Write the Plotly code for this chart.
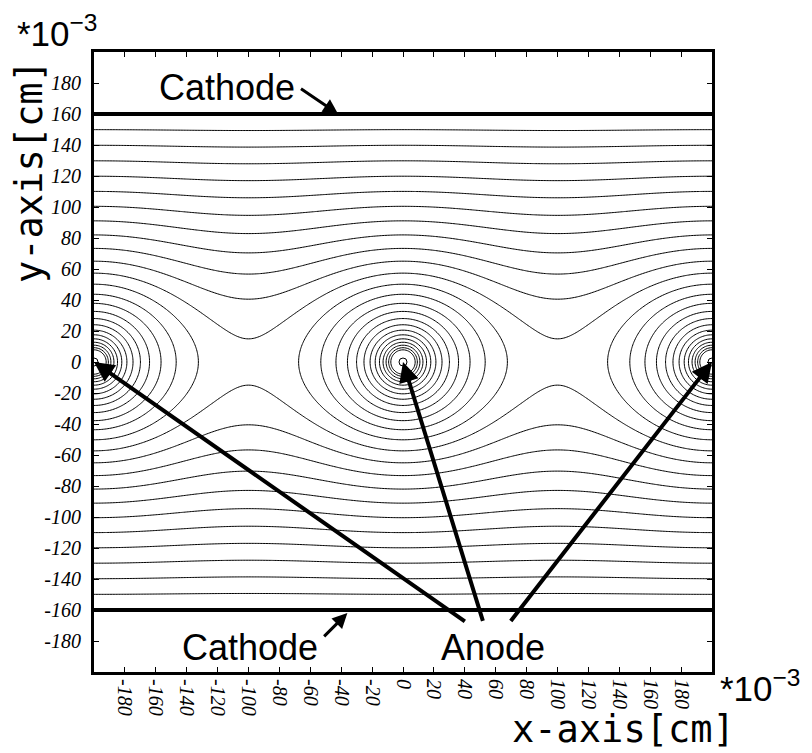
import numpy as np
import plotly.graph_objects as go

# ---- data (units: 1e-3 cm) ----
wire_x = [-200, 0, 200]          # anode wire positions
wire_y = [0, 0, 0]
cathode_y = [-160, 160]          # cathode planes
level_step = 0.326               # equipotential spacing (arb. units)
n_levels = 24
tick_vals = list(range(-180, 181, 20))
tick_text = [str(v) for v in tick_vals]

# ---- potential field of a wire row between two grounded planes ----
pitch = wire_x[1] - wire_x[0]
L = cathode_y[1]
xg = np.linspace(-200, 200, 401)
yg = np.linspace(-L, L, 321)
X, Y = np.meshgrid(xg, yg)
arg = np.cosh(2 * np.pi * Y / pitch) - np.cos(2 * np.pi * X / pitch)
V = -np.log(np.maximum(arg, 1e-9)) + 2 * np.pi * L / pitch - np.log(2)
for k in range(1, 6):
    kap = 2 * np.pi * k / pitch
    V -= (2.0 / k) * np.exp(-kap * L) * np.cosh(kap * Y) / np.cosh(kap * L) * np.cos(kap * X)
V = np.minimum(V, 20)

fig = go.Figure()
fig.add_trace(go.Contour(
    x=xg, y=yg, z=V,
    contours=dict(start=level_step, end=level_step * n_levels, size=level_step, coloring="none"),
    line=dict(color="black", width=1),
    showscale=False, hoverinfo="skip",
))
fig.add_trace(go.Scatter(
    x=wire_x, y=wire_y, mode="markers",
    marker=dict(symbol="circle-open", size=8, color="black", line=dict(width=1)),
    hoverinfo="skip",
))
for cy in cathode_y:
    fig.add_shape(type="line", x0=-200, x1=200, y0=cy, y1=cy, xref="x", yref="y",
                  line=dict(color="black", width=4))

tickfont = dict(family="Liberation Serif", size=20, color="black", style="italic")
axis_common = dict(range=[-200, 200], tickvals=tick_vals, ticktext=tick_text,
                   ticks="inside", ticklen=5, tickwidth=1, tickcolor="black",
                   showline=True, linewidth=3, linecolor="black", mirror="allticks",
                   showgrid=False, zeroline=False, tickfont=tickfont)
fig.update_xaxes(**axis_common, tickangle=90)
fig.update_yaxes(**axis_common, ticklabelstandoff=6)

ann = []
big = dict(family="Liberation Sans", size=36, color="black")
ann.append(dict(x=-114, y=177, xref="x", yref="y", text="Cathode", showarrow=False, font=big))
ann.append(dict(x=-99, y=-184, xref="x", yref="y", text="Cathode", showarrow=False, font=big))
ann.append(dict(x=58, y=-184, xref="x", yref="y", text="Anode", showarrow=False, font=big))
# arrows
arrows = [
    ((-42, 160), (-67, 177), 3),
    ((-36, -162), (-52, -178), 3),
    ((-200, 0), (41, -168), 4),
    ((0, 0), (52, -168), 4),
    ((200, 0), (69, -168), 4),
]
for (hx, hy), (tx, ty), w in arrows:
    ann.append(dict(x=hx, y=hy, ax=tx, ay=ty, xref="x", yref="y", axref="x", ayref="y",
                    text="", showarrow=True, arrowhead=2, arrowsize=1, arrowwidth=w,
                    arrowcolor="black", standoff=0))
mono = dict(family="DejaVu Sans Mono", size=37, color="black")
sci = dict(family="Liberation Sans", size=35, color="black")
# pixel-placed texts: (x_px, y_px, text, font, angle)
pix_texts = [
    (29, 172, "y-axis[cm]", mono, -90),
    (623, 729, "x-axis[cm]", mono, 0),
    (57, 31, "*10<sup>\u22123</sup>", sci, 0),
    (760, 686, "*10<sup>\u22123</sup>", sci, 0),
]

W, H = 812, 753
ml, mr, mt, mb = 94, 100, 52, 81
pw, ph = W - ml - mr, H - mt - mb
for px, py, txt, f, ang in pix_texts:
    ann.append(dict(x=(px - ml) / pw, y=1 - (py - mt) / ph, xref="paper", yref="paper",
                    xanchor="center", yanchor="middle", text=txt, textangle=ang,
                    showarrow=False, font=f))

fig.update_layout(
    width=W, height=H, autosize=False,
    margin=dict(l=ml, r=mr, t=mt, b=mb, pad=0),
    paper_bgcolor="white", plot_bgcolor="white",
    showlegend=False, annotations=ann,
)
fig.write_html("out.html")
